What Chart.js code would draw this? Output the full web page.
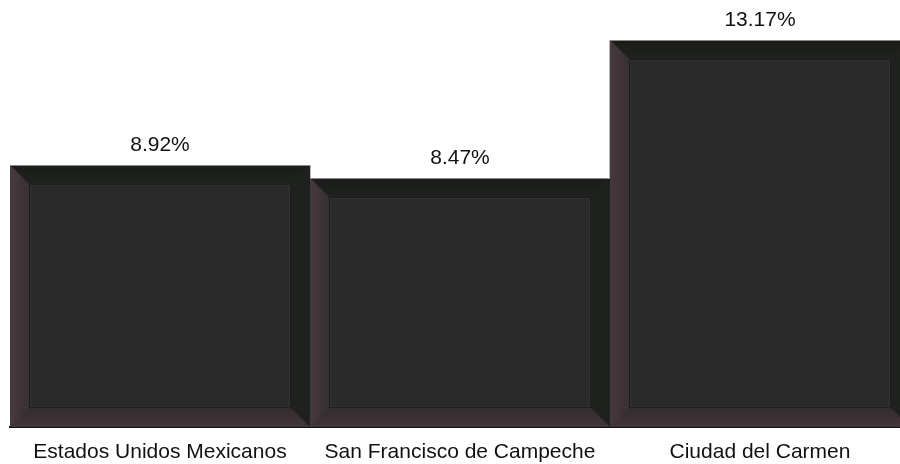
<!DOCTYPE html>
<html>
<head>
<meta charset="utf-8">
<script src="https://cdn.jsdelivr.net/npm/chart.js@4/dist/chart.umd.min.js"></script>
<style>
  html, body { margin: 0; padding: 0; background: #fff; }
  #clip { width: 900px; height: 464px; overflow: hidden; }
  #wrap { width: 910px; height: 464px; }
</style>
</head>
<body>
<div id="clip"><div id="wrap"><canvas id="chart"></canvas></div></div>
<script>
const categories = ['Estados Unidos Mexicanos', 'San Francisco de Campeche', 'Ciudad del Carmen'];
const values = [8.92, 8.47, 13.17];

// bevel frame drawn over each bar, using the bar element geometry
const bevelPlugin = {
    id: 'bevel',
    afterDatasetsDraw: (chart) => {
        const ctx = chart.ctx;
        const w = 19;
        chart.getDatasetMeta(0).data.forEach((bar, i) => {
            const L = Math.round(bar.x - bar.width / 2);
            const R = Math.round(bar.x + bar.width / 2);
            const T = Math.round(bar.y);
            const B = Math.round(bar.base);

            ctx.save();
            // top
            const tg = ctx.createLinearGradient(0, T, 0, T + w);
            tg.addColorStop(0, '#1a1c19');
            tg.addColorStop(1, '#20221f');
            ctx.fillStyle = tg;
            ctx.beginPath();
            ctx.moveTo(L, T); ctx.lineTo(R, T); ctx.lineTo(R - w, T + w); ctx.lineTo(L + w, T + w);
            ctx.closePath(); ctx.fill();
            // left
            const lg = ctx.createLinearGradient(L, 0, L + w, 0);
            lg.addColorStop(0, '#46393e');
            lg.addColorStop(1, '#383033');
            ctx.fillStyle = lg;
            ctx.beginPath();
            ctx.moveTo(L, T); ctx.lineTo(L + w, T + w); ctx.lineTo(L + w, B - w); ctx.lineTo(L, B);
            ctx.closePath(); ctx.fill();
            // right
            ctx.fillStyle = '#1e211e';
            ctx.beginPath();
            ctx.moveTo(R, T); ctx.lineTo(R - w, T + w); ctx.lineTo(R - w, B - w); ctx.lineTo(R, B);
            ctx.closePath(); ctx.fill();
            // bottom
            const bg = ctx.createLinearGradient(0, B - w, 0, B);
            bg.addColorStop(0, '#342c2f');
            bg.addColorStop(1, '#413538');
            ctx.fillStyle = bg;
            ctx.beginPath();
            ctx.moveTo(L, B); ctx.lineTo(L + w, B - w); ctx.lineTo(R - w, B - w); ctx.lineTo(R, B);
            ctx.closePath(); ctx.fill();
            // inner panel lines
            ctx.lineWidth = 1;
            ctx.strokeStyle = '#1c1c1c';
            ctx.strokeRect(L + w + 0.5, T + w + 0.5, R - L - 2 * w - 1, B - T - 2 * w - 1);
            ctx.strokeStyle = '#343232';
            ctx.strokeRect(L + w + 1.5, T + w + 1.5, R - L - 2 * w - 3, B - T - 2 * w - 3);
            // thin light edge at top
            ctx.strokeStyle = '#8a8a86';
            ctx.beginPath();
            ctx.moveTo(L, T + 0.5); ctx.lineTo(R, T + 0.5);
            ctx.stroke();

            // value label
            ctx.fillStyle = '#111';
            ctx.font = '21px "Liberation Sans", Arial, sans-serif';
            ctx.textAlign = 'center';
            ctx.textBaseline = 'alphabetic';
            ctx.fillText(values[i].toFixed(2) + '%', bar.x, T - 14);
            ctx.restore();
        });
    }
};

new Chart(document.getElementById('chart'), {
    type: 'bar',
    data: {
        labels: categories,
        datasets: [{
            data: values,
            backgroundColor: '#2b2a2a',
            borderWidth: 0,
            barPercentage: 1,
            categoryPercentage: 1
        }]
    },
    options: {
        responsive: true,
        maintainAspectRatio: false,
        animation: false,
        layout: { padding: { left: 10, right: 0, top: 0, bottom: 2 } },
        plugins: {
            legend: { display: false },
            tooltip: { enabled: false }
        },
        scales: {
            x: {
                grid: { display: false, drawTicks: false },
                border: { display: true, color: '#111', width: 2 },
                afterFit: (axis) => { axis.height = 35; },
                ticks: {
                    color: '#111',
                    padding: 13,
                    maxRotation: 0,
                    font: { family: '"Liberation Sans", Arial, sans-serif', size: 21 }
                }
            },
            y: {
                display: false,
                min: 0,
                max: 14.55
            }
        }
    },
    plugins: [bevelPlugin]
});
</script>
</body>
</html>
